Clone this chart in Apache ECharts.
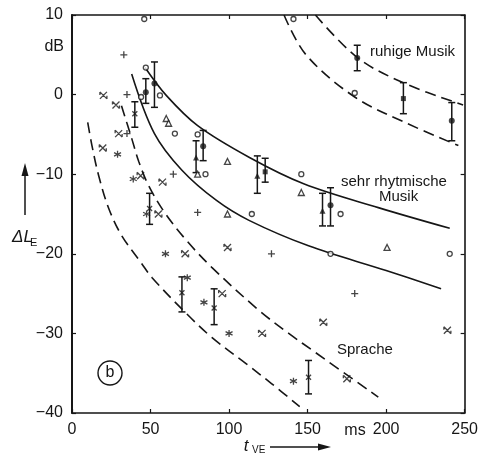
<!DOCTYPE html>
<html>
<head>
<meta charset="utf-8">
<script src="https://cdn.jsdelivr.net/npm/echarts@6/dist/echarts.min.js"></script>
<style>
  html, body { margin: 0; background: #fff; }
  #chart { width: 481px; height: 457px; }
</style>
</head>
<body>
<div id="chart"></div>
<script>
// axis ranges
var xMin = 0, xMax = 250, xStep = 50;
var yMin = -40, yMax = 10, yStep = 10;

// curves [t_VE in ms, dL_E in dB]
var ruhigeOben = [[155, 10], [182, 4.6], [212, 1.4], [249, -1.3]];
var ruhigeUnten = [[135, 10], [149, 5], [180, -0.3], [212, -3.5], [246, -6.4]];
var rhythmOben = [[46.5, 3.4], [60, -0.1], [80, -3.9], [113, -7.9], [147.5, -11.2], [195, -14.2], [240.5, -16.8]];
var rhythmUnten = [[38, 2.6], [52.5, -4.9], [70, -9.5], [92, -13.3], [112.7, -15.8], [150.6, -19], [200, -22.1], [235, -24.4]];
var spracheOben = [[31.5, -1.4], [38, -5.5], [42.5, -8.4], [48.7, -11.4], [58.9, -14.8], [72.8, -18.3], [89, -21.7], [119, -27.1], [138, -30], [155, -32.4], [195, -38]];
var spracheUnten = [[10, -3.5], [12.7, -6.4], [17, -10.2], [23.4, -14.3], [31.6, -17.7], [44.3, -21.2], [51, -23], [72.8, -27.5], [89, -30.5], [110.8, -33.8], [127, -36.3], [145, -39.2]];

// single measured points
var kreise = [[46, 9.5], [141, 9.5], [47, 3.4], [44, -0.3], [56, -0.1], [65.5, -4.9], [80, -5], [85, -10], [146, -10], [114.5, -15], [171, -15], [164.6, -20], [240.5, -20], [180, 0.2]];
var dreiecke = [[60, -3], [61.5, -3.6], [80, -10], [99, -8.4], [146, -12.3], [99, -15], [200.6, -19.2]];
var kreuze = [[33, 5], [35, 0], [35, -4.9], [64.5, -10], [80, -14.8], [127, -20], [180, -25]];
var sterne = [[29, -7.5], [39, -10.6], [47.5, -15], [59.5, -20], [73.4, -23], [84, -26.1], [100, -30], [141, -36]];
var schleifen = [[20, -0.1], [28, -1.3], [29.7, -4.9], [19.6, -6.7], [43.7, -10.2], [57.6, -11], [55, -15], [72, -20], [99, -19.2], [95.6, -25], [121, -30], [160, -28.6], [175, -35.7], [239, -29.6]];

// error bars [t, low, high] and their centre marks
var fehlerbalken = [[181.6, 3.0, 6.2], [211, -2.4, 1.5], [241.8, -5.8, -1.0], [52.5, -1.6, 4.1], [47, -1.1, 2.0],
  [79, -9.8, -5.8], [83.5, -8.3, -4.5], [118, -12.4, -7.7], [123, -11, -8], [159.5, -16.5, -12.4], [164.6, -16.5, -11.7],
  [40, -4.1, -0.9], [49.4, -16.3, -12.4], [70, -27.3, -22.9], [90.5, -28.9, -24.4], [150.6, -37.6, -33.4]];
var mittePunkt = [[181.6, 4.6], [241.8, -3.3], [52.5, 1.4], [83.5, -6.5], [164.6, -13.9], [47, 0.3]];
var mitteQuadrat = [[211, -0.5], [123, -9.7]];
var mitteDreieck = [[79, -7.9], [118, -10.2], [159.5, -14.6]];
var mitteX = [[40, -2.4], [49.4, -14.3], [70, -24.9], [90.5, -26.8], [150.6, -35.5]];

var INK = "#161616";
var FONT = "'Liberation Sans', Arial, sans-serif";

var chart = echarts.init(document.getElementById("chart"));

function curve(data, dashed) {
  return {
    type: "line",
    data: data,
    smooth: 0.35,
    symbol: "none",
    silent: true,
    lineStyle: { color: INK, width: 1.6, type: dashed ? [11, 6] : "solid" },
    z: 2,
  };
}

function marks(data, symbol, size, filled, stroke) {
  return {
    type: "scatter",
    data: data,
    symbol: symbol,
    symbolSize: size,
    itemStyle: {
      color: filled ? INK : (stroke ? "transparent" : "#fff"),
      borderColor: INK,
      borderWidth: filled ? 0 : 1.3,
    },
    z: 4,
  };
}

function errorBar(params, api) {
  var hi = api.coord([api.value(0), api.value(2)]);
  var lo = api.coord([api.value(0), api.value(1)]);
  var w = 3.5;
  var st = { stroke: INK, lineWidth: 1.5 };
  return {
    type: "group",
    children: [
      { type: "line", shape: { x1: hi[0], y1: hi[1], x2: lo[0], y2: lo[1] }, style: st },
      { type: "line", shape: { x1: hi[0] - w, y1: hi[1], x2: hi[0] + w, y2: hi[1] }, style: st },
      { type: "line", shape: { x1: lo[0] - w, y1: lo[1], x2: lo[0] + w, y2: lo[1] }, style: st },
    ],
  };
}

var plusPath = "path://M5,0L5,10M0,5L10,5";
var sternPath = "path://M5,0L5,10M0.7,2.5L9.3,7.5M0.7,7.5L9.3,2.5";
var xPath = "path://M0,0L10,10M0,10L10,0";
var schleifePath = "path://M1,1L9,9M1,9L9,1M1,1L1,4.5M9,9L9,5.5";

var axisBase = {
  min: xMin, max: xMax, interval: xStep,
  axisLine: { onZero: false, lineStyle: { color: INK, width: 1.6 } },
  axisTick: { inside: true, length: 4, lineStyle: { color: INK, width: 1.2 } },
  splitLine: { show: false },
};

var option = {
  animation: false,
  backgroundColor: "#fff",
  grid: { left: 72, right: 14, top: 15, bottom: 44 },
  xAxis: [
    Object.assign({}, axisBase, {
      type: "value", position: "bottom",
      axisLabel: { color: INK, fontFamily: FONT, fontSize: 16, margin: 9 },
    }),
    Object.assign({}, axisBase, {
      type: "value", position: "top", axisLabel: { show: false },
    }),
  ],
  yAxis: [
    {
      type: "value", min: yMin, max: yMax, interval: yStep, position: "left",
      axisLine: { onZero: false, lineStyle: { color: INK, width: 2 } },
      axisTick: { inside: true, length: 4, lineStyle: { color: INK, width: 1.2 } },
      splitLine: { show: false },
      axisLabel: {
        color: INK, fontFamily: FONT, fontSize: 16, margin: 9,
        formatter: function (v) { return v < 0 ? "\u2212" + Math.abs(v) : String(v); },
      },
    },
    {
      type: "value", min: yMin, max: yMax, interval: yStep, position: "right",
      axisLine: { onZero: false, lineStyle: { color: INK, width: 1.6 } },
      axisTick: { inside: true, length: 4, lineStyle: { color: INK, width: 1.2 } },
      splitLine: { show: false },
      axisLabel: { show: false },
    },
  ],
  series: [
    curve(ruhigeOben, true),
    curve(ruhigeUnten, true),
    curve(rhythmOben, false),
    curve(rhythmUnten, false),
    curve(spracheOben, true),
    curve(spracheUnten, true),
    {
      type: "custom",
      renderItem: errorBar,
      data: fehlerbalken,
      encode: { x: 0, y: [1, 2] },
      z: 3,
    },
    marks(kreise, "circle", 5, false),
    marks(dreiecke, "triangle", 6, false),
    marks(kreuze, plusPath, 7, false, true),
    marks(sterne, sternPath, 7, false, true),
    marks(schleifen, schleifePath, 7, false, true),
    marks(mittePunkt, "circle", 6, true),
    marks(mitteQuadrat, "rect", 5, true),
    marks(mitteDreieck, "triangle", 6, true),
    marks(mitteX, xPath, 5, false, true),
  ],
  graphic: [
    { type: "text", x: 64, y: 47, style: { text: "dB", font: "16px " + FONT, fill: INK, align: "right", verticalAlign: "middle" } },
    { type: "text", x: 355, y: 431, style: { text: "ms", font: "16px " + FONT, fill: INK, align: "center", verticalAlign: "middle" } },
    // x axis title
    { type: "text", x: 246, y: 446, style: { text: "t", font: "italic 17px " + FONT, fill: INK, align: "center", verticalAlign: "middle" } },
    { type: "text", x: 252, y: 450, style: { text: "VE", font: "10px " + FONT, fill: INK, align: "left", verticalAlign: "middle" } },
    { type: "line", shape: { x1: 270, y1: 447, x2: 320, y2: 447 }, style: { stroke: INK, lineWidth: 1.5 } },
    { type: "polygon", shape: { points: [[331, 447], [318, 443.5], [318, 450.5]] }, style: { fill: INK } },
    // y axis title
    { type: "line", shape: { x1: 25, y1: 215, x2: 25, y2: 174 }, style: { stroke: INK, lineWidth: 1.5 } },
    { type: "polygon", shape: { points: [[25, 163], [21.5, 176], [28.5, 176]] }, style: { fill: INK } },
    { type: "text", x: 12, y: 237, style: { text: "\u0394L", font: "italic 17px " + FONT, fill: INK, align: "left", verticalAlign: "middle" } },
    { type: "text", x: 30, y: 243, style: { text: "E", font: "11px " + FONT, fill: INK, align: "left", verticalAlign: "middle" } },
    // curve labels
    { type: "text", x: 370, y: 52, style: { text: "ruhige Musik", font: "15px " + FONT, fill: INK, align: "left", verticalAlign: "middle" } },
    { type: "text", x: 341, y: 182, style: { text: "sehr rhytmische", font: "15px " + FONT, fill: INK, align: "left", verticalAlign: "middle" } },
    { type: "text", x: 379, y: 197, style: { text: "Musik", font: "15px " + FONT, fill: INK, align: "left", verticalAlign: "middle" } },
    { type: "text", x: 337, y: 350, style: { text: "Sprache", font: "15px " + FONT, fill: INK, align: "left", verticalAlign: "middle" } },
    // panel mark
    { type: "circle", shape: { cx: 110, cy: 373, r: 12 }, style: { fill: "none", stroke: INK, lineWidth: 1.4 } },
    { type: "text", x: 110, y: 373, style: { text: "b", font: "16px " + FONT, fill: INK, align: "center", verticalAlign: "middle" } },
  ],
};

chart.setOption(option);
</script>
</body>
</html>
